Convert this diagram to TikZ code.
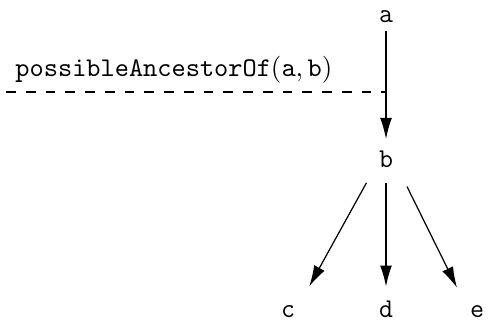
\documentclass[tikz,border=0pt]{standalone}
\usetikzlibrary{arrows.meta,calc}
\begin{document}
\begin{tikzpicture}[x=0.405pt,y=-0.405pt,
  lbl/.style={font=\fontsize{11}{13}\selectfont\ttfamily, anchor=base},
  arr/.style={-{Latex[length=8.5pt,width=4.8pt]}, line width=0.5pt},
  sep/.style={dashed, dash pattern=on 4pt off 4pt, line width=0.45pt}]
\useasboundingbox (0,0) rectangle (488,320);
\node[lbl] (a) at (386,22) {a};
\node[lbl] (b) at (386,167) {b};
\node[lbl] (c) at (288,317) {c};
\node[lbl] (d) at (386,317) {d};
\node[lbl] (e) at (477,317) {e};
\node[anchor=base west, inner sep=0pt, font=\fontsize{11}{13}\selectfont] (lab) at (15,76) {$\mathtt{possibleAncestorOf}(\mathtt{a},\mathtt{b})$};
\coordinate (dl) at (6,92);
\draw[sep] (dl) -- (dl -| a);
\draw[arr, shorten >=1.1pt] (a) -- (b);
\draw[arr, shorten <=3.2pt, shorten >=4.6pt] (b.south west) -- (c.north east);
\draw[arr, shorten <=2.75pt, shorten >=2.1pt] (b) -- (d);
\draw[arr, shorten <=4.8pt, shorten >=3.9pt] (b.south east) -- (e.north west);
\end{tikzpicture}
\end{document}
